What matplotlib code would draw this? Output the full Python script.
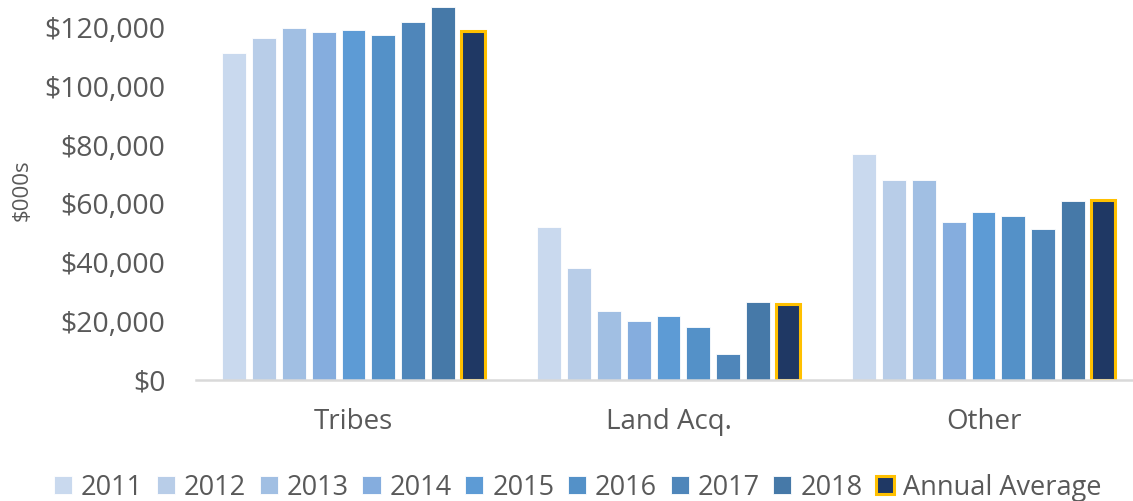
import numpy as np
from matplotlib import pyplot as plt
from matplotlib.ticker import FuncFormatter

categories = ["Tribes", "Land Acq.", "Other"]
years = ["2011", "2012", "2013", "2014", "2015", "2016", "2017", "2018"]
values = {
    "2011": [111600, 52200, 77000],
    "2012": [116400, 38000, 68300],
    "2013": [119800, 23500, 68200],
    "2014": [118500, 20000, 53800],
    "2015": [119300, 21900, 57300],
    "2016": [117700, 18100, 55800],
    "2017": [121900, 8900, 51600],
    "2018": [127200, 26500, 61000],
}
average = [119000, 26000, 61400]

year_colors = ["#C9D9EE", "#B8CDE8", "#A1BFE3", "#85ADDE",
               "#5D9BD5", "#5491C8", "#4F86BA", "#4679A8"]
avg_color = "#1F3864"
avg_edge = "#FFC000"
text_color = "#595959"

plt.rcParams['font.family'] = ['Open Sans', 'DejaVu Sans']

fig = plt.figure(figsize=(11.33, 5.01), dpi=100)
ax = fig.add_axes([196 / 1133, 1 - 380 / 501, (1133 - 196) / 1133, 380 / 501])

x = np.arange(len(categories))
step = 0.095
width = 0.076
n = len(years) + 1
offsets = (np.arange(n) - (n - 1) / 2) * step

for i, yr in enumerate(years):
    ax.bar(x + offsets[i], values[yr], width, color=year_colors[i],
           edgecolor="white", linewidth=0.6, label=yr, zorder=2)
ax.bar(x + offsets[-1], average, width, color=avg_color,
       edgecolor=avg_edge, linewidth=2.2, label="Annual Average", zorder=2)

ax.set_xlim(-0.5, -0.5 + 937 / 315)
ax.set_ylim(0, 129500)
ax.set_yticks(np.arange(0, 120001, 20000))
ax.yaxis.set_major_formatter(FuncFormatter(lambda v, p: "${:,.0f}".format(v)))
ax.set_xticks(x)
ax.set_xticklabels(categories)

for s in ["top", "right", "left"]:
    ax.spines[s].set_visible(False)
ax.spines["bottom"].set_color("#D9D9D9")
ax.spines["bottom"].set_linewidth(1.8)
ax.spines["bottom"].set_zorder(3)
ax.tick_params(axis="y", length=0, labelsize=20.5, colors=text_color, pad=22)
ax.tick_params(axis="x", length=0, labelsize=20, colors=text_color, pad=20)
ax.set_ylabel("$000s", fontsize=16, color=text_color)
ax.yaxis.set_label_coords(-0.174, 0.5)

leg = fig.legend(loc="lower center", bbox_to_anchor=(0.51, -0.05), ncol=9,
                 frameon=False, fontsize=19.5, handlelength=0.67, handleheight=0.67,
                 handletextpad=0.33, columnspacing=0.5, labelcolor=text_color)

fig.savefig("out.png", dpi=100)
